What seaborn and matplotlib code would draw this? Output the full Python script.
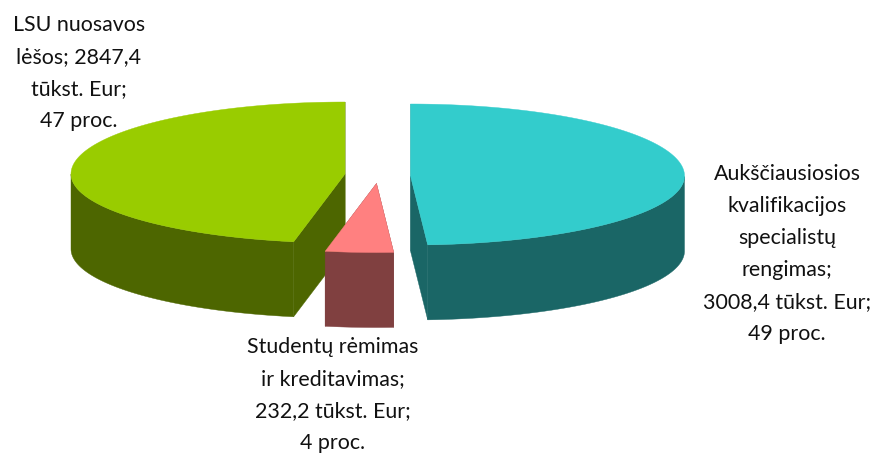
import numpy as np
import matplotlib
matplotlib.use("Agg")
import matplotlib.pyplot as plt
from matplotlib.patches import Polygon
import seaborn as sns

categories = ["Aukščiausiosios\nkvalifikacijos\nspecialistų\nrengimas;\n3008,4 tūkst. Eur;\n49 proc.",
              "Studentų rėmimas\nir kreditavimas;\n232,2 tūkst. Eur;\n4 proc.",
              "LSU nuosavos\nlėšos; 2847,4\ntūkst. Eur;\n47 proc."]
shares = [49, 4, 47]
top_colors = ["#33CCCC", "#FF8080", "#99CC00"]
side_colors = ["#1A6666", "#804040", "#4D6600"]
apexes = [(410.5, 176), (376.5, 183.5), (345, 174)]
label_pos = [(787, 254), (333, 395), (79, 73)]

RX, RY_BACK, RY_FRONT, DEPTH = 274, 72, 69, 75

sns.set_theme(style="white")
plt.rcParams["font.family"] = ["Lato", "DejaVu Sans"]
fig, ax = plt.subplots(figsize=(8.75, 4.53), dpi=100)
ax.set_position([0, 0, 1, 1])
ax.set_xlim(0, 875)
ax.set_ylim(453, 0)
ax.axis("off")


def rim(c, t):
    t = np.asarray(t)
    ry = np.where(np.cos(t) > 0, RY_BACK, RY_FRONT)
    return np.column_stack([c[0] + RX * np.sin(t), c[1] - ry * np.cos(t)])


edges = np.radians(np.concatenate([[0], np.cumsum(shares)]) * 3.6)
down = np.array([0, DEPTH])
for i, (c, top, side) in enumerate(zip(apexes, top_colors, side_colors)):
    a, b = edges[i], edges[i + 1]
    ts = np.linspace(a, b, 200)
    arc = rim(c, ts)
    apex = np.array(c)
    # cut walls
    for t in (a, b):
        p = rim(c, [t])[0]
        ax.add_patch(Polygon([apex, p, p + down, apex + down], fc=side, ec=side, lw=0.3, zorder=2 + i * 0.01))
    # outer wall (front half only)
    vis = ts[(ts >= np.pi / 2) & (ts <= 3 * np.pi / 2)]
    if len(vis):
        w = rim(c, vis)
        ax.add_patch(Polygon(np.vstack([w, (w + down)[::-1]]), fc=side, ec=side, lw=0.3, zorder=3))
    ax.add_patch(Polygon(np.vstack([apex, arc]), fc=top, ec=top, lw=0.3, zorder=4))

for txt, (x, y) in zip(categories, label_pos):
    ax.text(x, y, txt, ha="center", va="center", fontsize=15.4, color="#111111",
            linespacing=1.75, zorder=6)

fig.savefig("out.png", dpi=100)
